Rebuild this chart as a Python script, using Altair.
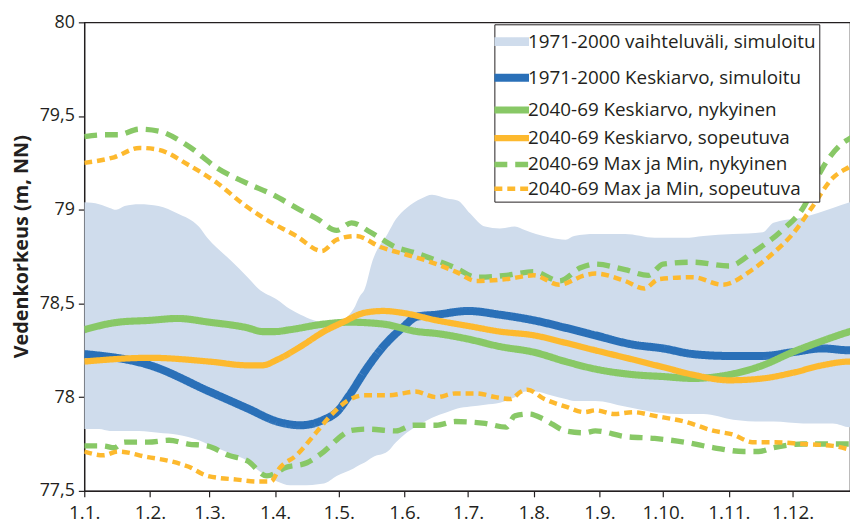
import altair as alt
import pandas as pd

# ---------------- data (day of year, water level m NN) ----------------
S_BAND = "1971-2000 vaihteluväli, simuloitu"
S_BLUE = "1971-2000 Keskiarvo, simuloitu"
S_GREEN = "2040-69 Keskiarvo, nykyinen"
S_ORANGE = "2040-69 Keskiarvo, sopeutuva"
S_GDASH = "2040-69 Max ja Min, nykyinen"
S_ODASH = "2040-69 Max ja Min, sopeutuva"
series_names = [S_BAND, S_BLUE, S_GREEN, S_ORANGE, S_GDASH, S_ODASH]

month_starts = [1, 32, 60, 91, 121, 152, 182, 213, 244, 274, 305, 335]
y_ticks = [77.5, 78, 78.5, 79, 79.5, 80]

band_days = [1, 8, 13, 16, 20, 27, 36, 45, 55, 59, 70, 78, 83, 92, 98, 103, 114, 120, 128, 131,
             133, 137, 144, 148, 153, 160, 165, 172, 177, 183, 190, 197, 204, 209, 214, 221, 228, 232, 242, 256,
             270, 284, 293, 307, 321, 326, 340, 354, 362, 365]
band_upper = [79.04, 79.03, 79.01, 79.00, 79.02, 79.03, 79.02, 78.98, 78.91, 78.85,
              78.73, 78.64, 78.58, 78.52, 78.47, 78.44, 78.40, 78.40, 78.47, 78.54,
              78.57, 78.73, 78.87, 78.95, 79.01, 79.06, 79.08, 79.06, 79.05, 78.98,
              78.91, 78.90, 78.91, 78.89, 78.87, 78.85, 78.84, 78.86, 78.87, 78.87,
              78.85, 78.85, 78.86, 78.87, 78.88, 78.93, 78.96, 79.01, 79.04, 79.05]
band_lower = [77.83, 77.83, 77.82, 77.82, 77.82, 77.82, 77.81, 77.80, 77.77, 77.75,
              77.70, 77.66, 77.61, 77.55, 77.53, 77.53, 77.54, 77.58, 77.62, 77.64,
              77.65, 77.68, 77.71, 77.76, 77.81, 77.86, 77.89, 77.92, 77.94, 77.95,
              77.96, 77.97, 78.00, 78.03, 78.03, 78.01, 77.99, 77.98, 77.98, 77.95,
              77.92, 77.91, 77.91, 77.88, 77.87, 77.87, 77.86, 77.86, 77.84, 77.84]

blue_days = [1, 32, 60, 78, 92, 103, 114, 120, 126, 134, 142, 151, 158, 167, 182, 197, 213, 228, 242,
             260, 274, 288, 305, 321, 335, 349, 362, 365]
blue_vals = [78.23, 78.17, 78.03, 77.94, 77.87, 77.85, 77.88, 77.92, 78.01,
             78.15, 78.27, 78.37, 78.43, 78.44, 78.46, 78.44, 78.41, 78.37, 78.33,
             78.28, 78.26, 78.23, 78.22, 78.22, 78.24, 78.26, 78.25, 78.25]

green_days = [1, 17, 32, 45, 60, 78, 85, 91, 98, 114, 126, 142, 158, 167, 182, 197, 213, 228, 242, 260,
              274, 288, 305, 321, 335, 349, 362, 365]
green_vals = [78.36, 78.40, 78.41, 78.42, 78.40, 78.37, 78.35, 78.35, 78.36, 78.39,
              78.40, 78.39, 78.35, 78.34, 78.31, 78.27, 78.24, 78.19, 78.15, 78.12,
              78.11, 78.10, 78.12, 78.17, 78.24, 78.30, 78.35, 78.36]

orange_days = [1, 32, 60, 78, 85, 92, 103, 114, 123, 133, 142, 151, 167, 182, 197, 213, 228, 242, 260, 274,
               288, 305, 321, 335, 349, 362, 365]
orange_vals = [78.19, 78.21, 78.19, 78.17, 78.17, 78.20, 78.27, 78.35, 78.40, 78.45,
               78.46, 78.45, 78.41, 78.38, 78.35, 78.33, 78.29, 78.25, 78.20, 78.16,
               78.12, 78.09, 78.10, 78.13, 78.17, 78.19, 78.19]

gmax_days = [1, 10, 17, 27, 36, 50, 64, 78, 90, 101, 111, 120, 127, 136, 148, 157, 167, 176, 186, 200,
             213, 225, 235, 242, 256, 267, 274, 288, 305, 316, 330, 340, 349, 358, 362, 365]
gmax_vals = [79.39, 79.40, 79.40, 79.43, 79.42, 79.34, 79.22, 79.14, 79.08, 79.01,
             78.95, 78.89, 78.93, 78.88, 78.80, 78.77, 78.73, 78.69, 78.64, 78.65,
             78.67, 78.62, 78.69, 78.71, 78.68, 78.65, 78.71, 78.72, 78.70, 78.77,
             78.89, 79.01, 79.22, 79.35, 79.38, 79.40]

gmin_days = [1, 10, 15, 20, 31, 41, 50, 59, 69, 78, 87, 92, 95, 106, 114, 123, 126, 134, 148, 156,
             167, 176, 190, 200, 204, 211, 218, 228, 237, 242, 256, 270, 284, 298, 312, 319, 326, 340, 354, 362,
             365]
gmin_vals = [77.74, 77.74, 77.73, 77.76, 77.76, 77.77, 77.75, 77.74, 77.69, 77.66,
             77.58, 77.60, 77.62, 77.65, 77.71, 77.80, 77.82, 77.83, 77.82, 77.85,
             77.85, 77.87, 77.86, 77.84, 77.90, 77.91, 77.88, 77.82, 77.81, 77.82,
             77.79, 77.78, 77.76, 77.73, 77.71, 77.71, 77.73, 77.75, 77.75, 77.75,
             77.75]

omax_days = [1, 15, 27, 36, 50, 64, 76, 85, 101, 113, 120, 129, 141, 153, 162, 176, 186, 200, 213, 225,
             237, 242, 256, 265, 272, 288, 302, 316, 326, 335, 344, 354, 362, 365]
omax_vals = [79.25, 79.28, 79.33, 79.32, 79.24, 79.14, 79.03, 78.96, 78.86, 78.78,
             78.84, 78.86, 78.80, 78.76, 78.73, 78.67, 78.62, 78.63, 78.65, 78.60,
             78.65, 78.66, 78.62, 78.58, 78.63, 78.64, 78.60, 78.68, 78.77, 78.87,
             79.01, 79.17, 79.23, 79.25]

omin_days = [1, 10, 17, 31, 41, 50, 59, 73, 83, 89, 93, 101, 111, 117, 125, 133, 145, 151, 157, 167,
             176, 186, 195, 202, 207, 210, 218, 228, 237, 242, 251, 260, 270, 284, 298, 307, 316, 326, 340, 354,
             362, 365]
omin_vals = [77.71, 77.69, 77.71, 77.68, 77.66, 77.63, 77.58, 77.56, 77.55, 77.55,
             77.62, 77.69, 77.82, 77.90, 77.98, 78.01, 78.01, 78.02, 78.03, 78.00,
             78.02, 78.02, 78.00, 77.99, 78.03, 78.04, 77.99, 77.95, 77.92, 77.93,
             77.91, 77.92, 77.90, 77.87, 77.82, 77.80, 77.76, 77.76, 77.75, 77.74,
             77.72, 77.71]

# ---------------- tables ----------------
band_df = pd.DataFrame({"day": band_days, "upper": band_upper, "lower": band_lower})

parts = [
    (S_BLUE, "a", blue_days, blue_vals),
    (S_GREEN, "a", green_days, green_vals),
    (S_ORANGE, "a", orange_days, orange_vals),
    (S_GDASH, "max", gmax_days, gmax_vals),
    (S_GDASH, "min", gmin_days, gmin_vals),
    (S_ODASH, "max", omax_days, omax_vals),
    (S_ODASH, "min", omin_days, omin_vals),
]
frames = []
for order, (name, part, d, v) in enumerate(parts):
    frames.append(pd.DataFrame({"day": d, "value": v, "series": name,
                                "part": name + part, "order": order}))
line_df = pd.concat(frames, ignore_index=True)

# ---------------- style ----------------
FONT = "Open Sans"
TXT = "#231f20"
colors = ["#cfdcec", "#2a70b8", "#88c866", "#fdb92e", "#88c866", "#fdb92e"]
dashes = [[1, 0], [1, 0], [1, 0], [1, 0], [13, 8], [8, 5]]
widths = [9, 4.5, 4.5, 4.5, 3.5, 3.5]

x_scale = alt.Scale(domain=[1, 362.1], nice=False, zero=False)
y_scale = alt.Scale(domain=[77.5, 80], nice=False, zero=False)

ms = ",".join(str(m) for m in month_starts)
x_axis = alt.Axis(values=month_starts, title=None, grid=False,
                  labelExpr="'1.' + (indexof([" + ms + "], datum.value) + 1) + '.'",
                  labelFontSize=19, tickSize=6, labelPadding=7, labelFlush=False)
y_axis = alt.Axis(values=y_ticks, title="Vedenkorkeus (m, NN)", grid=False,
                  labelExpr="replace(format(datum.value, '~g'), '.', ',')",
                  labelFontSize=18, tickSize=6, labelPadding=4,
                  titleFontSize=20, titleFontWeight="bold", titlePadding=8, titleY=226)

band = alt.Chart(band_df).mark_area(opacity=1, clip=True, interpolate="monotone",
                                    color=colors[0]).encode(
    x=alt.X("day:Q", scale=x_scale, axis=x_axis),
    y=alt.Y("upper:Q", scale=y_scale, axis=y_axis),
    y2="lower:Q",
)

lines = alt.Chart(line_df).mark_line(clip=True, interpolate="monotone").encode(
    x=alt.X("day:Q", scale=x_scale),
    y=alt.Y("value:Q", scale=y_scale),
    detail="part:N",
    order="order:Q",
    color=alt.Color("series:N", scale=alt.Scale(domain=series_names, range=colors), title=None),
    strokeDash=alt.StrokeDash("series:N", scale=alt.Scale(domain=series_names, range=dashes), title=None),
    strokeWidth=alt.StrokeWidth("series:N", scale=alt.Scale(domain=series_names, range=widths), title=None),
)

chart = alt.layer(band, lines).properties(
    width=773, height=473,
    autosize=alt.AutoSizeParams(type="none"),
    padding={"left": 77, "top": 12, "right": 0, "bottom": 35},
).configure_view(
    stroke=TXT, strokeWidth=1.2
).configure_axis(
    labelFont=FONT, titleFont=FONT, labelColor=TXT, titleColor=TXT,
    domainColor=TXT, tickColor=TXT, domainWidth=1.2, tickWidth=1.2
).configure_legend(
    orient="none", legendX=414, legendY=2,
    strokeColor=TXT, fillColor="white", padding=3,
    labelFont=FONT, labelFontSize=19, labelColor=TXT, labelLimit=400,
    symbolType="M-1.8,0H1.8", symbolSize=376, labelOffset=2, rowPadding=1,
)

chart.save("out.html", embed_options={"renderer": "svg", "actions": False})
